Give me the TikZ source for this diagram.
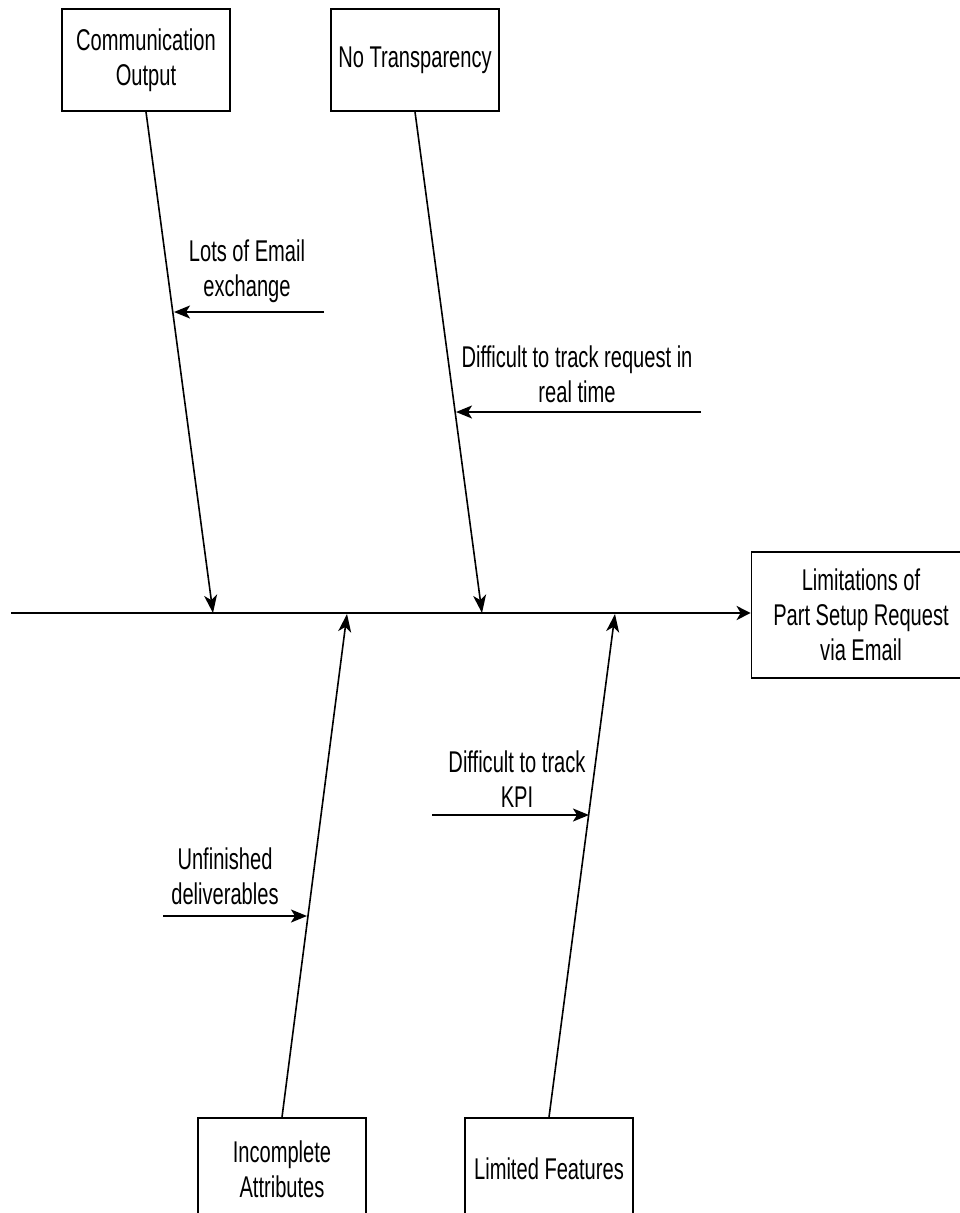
\documentclass[tikz,border=0pt]{standalone}
\usepackage{fontspec}
\setmainfont{Liberation Sans}[FakeStretch=0.67]
\usetikzlibrary{arrows.meta}
\tikzset{
  cause/.style={draw=black, line width=1.7pt, minimum width=168pt, minimum height=102pt, inner sep=0pt, align=center, font=\fontsize{30}{35}\selectfont},
  effect/.style={draw=black, line width=1.7pt, minimum width=219pt, minimum height=126pt, inner sep=0pt, align=center, font=\fontsize{30}{35}\selectfont},
  lbl/.style={inner sep=0pt, align=center, font=\fontsize{30}{35}\selectfont},
  bone/.style={draw=black, line width=1.6pt, -{Stealth[length=18pt,width=13pt,inset=5pt]}},
  spine/.style={draw=black, line width=2.6pt, -{Stealth[length=14pt,width=14pt,inset=4pt]}},
  sub/.style={draw=black, line width=1.9pt, -{Stealth[length=16pt,width=13pt,inset=4pt]}}
}
\begin{document}
\begin{tikzpicture}[x=1pt,y=-1pt]
\useasboundingbox (0,0) rectangle (960,1213);
\clip (0,0) rectangle (960,1213);
% cause boxes
\node[cause] (co) at (146,60) {Communication\\Output};
\node[cause] (nt) at (415,60) {No Transparency};
\node[cause] (ia) at (282,1169) {Incomplete\\Attributes};
\node[cause] (lf) at (549,1169) {Limited Features};
% effect box
\node[effect] (ef) at (861,615) {Limitations of\\Part Setup Request\\via Email};
% spine
\coordinate (sp0) at (11,613);
\draw[spine] (sp0) -- (ef.west |- sp0);
% tips on spine
\coordinate (t1) at (213,613);
\coordinate (t2) at (482,613);
\coordinate (t3) at (347,614);
\coordinate (t4) at (615,614);
\draw[bone] (co.south) -- (t1);
\draw[bone] (nt.south) -- (t2);
\draw[bone] (ia.north) -- (t3);
\draw[bone] (lf.north) -- (t4);
% sub causes
\node[lbl] (l1) at (247,271) {Lots of Email\\exchange};
\coordinate (a1s) at (324,312);
\coordinate (a1t) at (174,312);
\draw[sub] (a1s) -- (a1t);
\node[lbl] (l2) at (577,374) {Difficult to track request in\\real time};
\coordinate (a2s) at (701,412);
\coordinate (a2t) at (456,412);
\draw[sub] (a2s) -- (a2t);
\node[lbl] (l3) at (517,779) {Difficult to track\\KPI};
\coordinate (a3s) at (432,815);
\coordinate (a3t) at (589,815);
\draw[sub] (a3s) -- (a3t);
\node[lbl] (l4) at (225,876) {Unfinished\\deliverables};
\coordinate (a4s) at (163,916);
\coordinate (a4t) at (307,916);
\draw[sub] (a4s) -- (a4t);
\end{tikzpicture}
\end{document}
